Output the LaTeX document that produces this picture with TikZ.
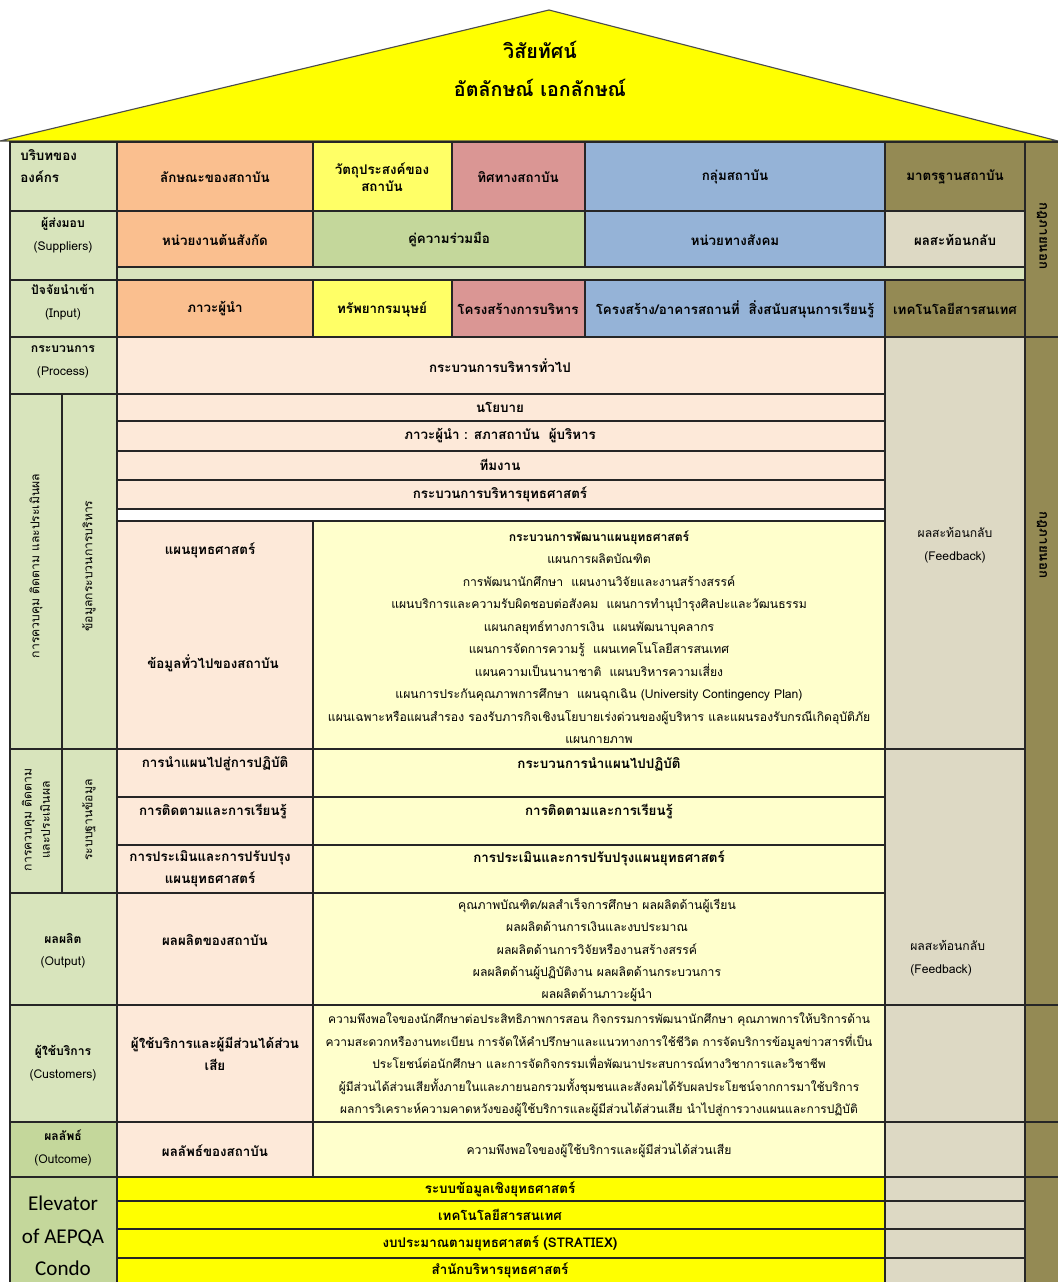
\documentclass[tikz,border=0pt]{standalone}
\usepackage{fontspec}
\setmainfont[Script=Thai]{Loma}
\newfontfamily\elevfont{Carlito}

\definecolor{roofyellow}{HTML}{FFFF00}
\definecolor{labelgreen}{HTML}{D8E4BC}
\definecolor{midgreen}{HTML}{C4D79B}
\definecolor{cellorange}{HTML}{FABF8F}
\definecolor{paleyellow}{HTML}{FFFF66}
\definecolor{cellpink}{HTML}{DA9694}
\definecolor{cellblue}{HTML}{95B3D7}
\definecolor{olive}{HTML}{948A54}
\definecolor{beige}{HTML}{DDD9C4}
\definecolor{peach}{HTML}{FDE9D9}
\definecolor{cream}{HTML}{FFFFCC}

\tikzset{
  cellbox/.style={draw=black!85, line width=0.8pt},
  hd/.style={font=\fontsize{9.5}{16}\selectfont\bfseries, align=center, inner sep=0pt},
  txt/.style={font=\fontsize{8.65}{16}\selectfont, align=center, inner sep=0pt},
  title/.style={font=\fontsize{14}{18}\selectfont\bfseries, inner sep=0pt},
}

\begin{document}
\begin{tikzpicture}[x=0.025cm, y=-0.025cm]

\useasboundingbox (0,0) rectangle (1058,1282);
\clip (0,0) rectangle (1058,1282);

% roof
\draw[fill=roofyellow, draw=black!70, line width=0.8pt] (0,141) -- (549,10) -- (1058,141) -- cycle;
\node(vision) at (540,50) [title]{วิสัยทัศน์};
\node(identity) at (540,88) [title]{อัตลักษณ์ เอกลักษณ์};

% context, suppliers, input
\draw[cellbox, fill=labelgreen] (10,142) rectangle (117,211);
\draw[cellbox, fill=labelgreen] (10,211) rectangle (117,280);
\draw[cellbox, fill=labelgreen] (10,280) rectangle (117,337);
\draw[cellbox, fill=labelgreen] (117,267) rectangle (1025,280);
\draw[cellbox, fill=olive] (1025,142) rectangle (1062,337);

\draw[cellbox, fill=cellorange] (117,142) rectangle (313,211);
\draw[cellbox, fill=paleyellow] (313,142) rectangle (452,211);
\draw[cellbox, fill=cellpink] (452,142) rectangle (585,211);
\draw[cellbox, fill=cellblue] (585,142) rectangle (885,211);
\draw[cellbox, fill=olive] (885,142) rectangle (1025,211);

\draw[cellbox, fill=cellorange] (117,211) rectangle (313,267);
\draw[cellbox, fill=midgreen] (313,211) rectangle (585,267);
\draw[cellbox, fill=cellblue] (585,211) rectangle (885,267);
\draw[cellbox, fill=beige] (885,211) rectangle (1025,267);

\draw[cellbox, fill=cellorange] (117,280) rectangle (313,337);
\draw[cellbox, fill=paleyellow] (313,280) rectangle (452,337);
\draw[cellbox, fill=cellpink] (452,280) rectangle (585,337);
\draw[cellbox, fill=cellblue] (585,280) rectangle (885,337);
\draw[cellbox, fill=olive] (885,280) rectangle (1025,337);

\node(context) at (20,166) [hd, anchor=west, align=left]{บริบทของ\\องค์กร};
\node(nature) at (215,177) [hd]{ลักษณะของสถาบัน};
\node(objective) at (382,177) [hd, font=\fontsize{9.5}{12}\selectfont\bfseries]{วัตถุประสงค์ของ\\สถาบัน};
\node(direction) at (518,177) [hd]{ทิศทางสถาบัน};
\node(group) at (735,177) [hd]{กลุ่มสถาบัน};
\node(standard) at (955,177) [hd]{มาตรฐานสถาบัน};

\node(suppliers) at (63,235) [txt]{{\bfseries ผู้ส่งมอบ}\\(Suppliers)};
\node(parent) at (215,240) [hd]{หน่วยงานต้นสังกัด};
\node(partner) at (449,240) [hd]{คู่ความร่วมมือ};
\node(society) at (735,240) [hd]{หน่วยทางสังคม};
\node(reflect) at (955,240) [hd]{ผลสะท้อนกลับ};

\node(input) at (63,302) [txt]{{\bfseries ปัจจัยนำเข้า}\\(Input)};
\node(leader) at (215,309) [hd]{ภาวะผู้นำ};
\node(human) at (382,309) [hd]{ทรัพยากรมนุษย์};
\node(structure) at (518,309) [hd]{โครงสร้างการบริหาร};
\node(building) at (735,309) [hd]{โครงสร้าง/อาคารสถานที่~ สิ่งสนับสนุนการเรียนรู้};
\node(ict) at (955,309) [hd]{เทคโนโลยีสารสนเทศ};

\node(lawtop) at (1042,236) [hd, rotate=-90]{กฎภายนอก};

% process
\draw[cellbox, fill=olive] (1025,337) rectangle (1062,1290);
\draw[cellbox] (1025,1005) -- (1062,1005);
\draw[cellbox] (1025,1122) -- (1062,1122);
\draw[cellbox] (1025,1177) -- (1062,1177);
\draw[cellbox, fill=beige] (885,337) rectangle (1025,749);
\draw[cellbox, fill=labelgreen] (10,337) rectangle (117,394);
\draw[draw=cellblue!70!blue, line width=0.8pt] (10,394) -- (117,394);
\draw[cellbox, fill=peach] (117,337) rectangle (885,394);

\draw[cellbox, fill=labelgreen] (10,394) rectangle (62,749);
\draw[cellbox, fill=labelgreen] (62,394) rectangle (117,749);
\draw[cellbox, fill=peach] (117,394) rectangle (885,421);
\draw[cellbox, fill=peach] (117,421) rectangle (885,451);
\draw[cellbox, fill=peach] (117,451) rectangle (885,480);
\draw[cellbox, fill=peach] (117,480) rectangle (885,509);
\draw[cellbox, fill=white] (117,509) rectangle (885,521);
\draw[cellbox, fill=peach] (117,521) rectangle (313,749);
\draw[cellbox, fill=cream] (313,521) rectangle (885,749);

\node(process) at (63,362) [txt]{{\bfseries กระบวนการ}\\(Process)};
\node(general) at (500,366) [hd]{กระบวนการบริหารทั่วไป};
\node(policy) at (500,407) [hd]{นโยบาย};
\node(council) at (500,436) [hd]{ภาวะผู้นำ : สภาสถาบัน~ ผู้บริหาร};
\node(team) at (500,465) [hd]{ทีมงาน};
\node(stratmgmt) at (500,494) [hd]{กระบวนการบริหารยุทธศาสตร์};
\node(stratplan) at (210,550) [hd]{แผนยุทธศาสตร์};
\node(info) at (213,663) [hd]{ข้อมูลทั่วไปของสถาบัน};
\node(plans) at (599,637) [txt]{{\bfseries กระบวนการพัฒนาแผนยุทธศาสตร์}\\
  แผนการผลิตบัณฑิต\\
  การพัฒนานักศึกษา~ แผนงานวิจัยและงานสร้างสรรค์\\
  แผนบริการและความรับผิดชอบต่อสังคม~ แผนการทำนุบำรุงศิลปะและวัฒนธรรม\\
  แผนกลยุทธ์ทางการเงิน~ แผนพัฒนาบุคลากร\\
  แผนการจัดการความรู้~ แผนเทคโนโลยีสารสนเทศ\\
  แผนความเป็นนานาชาติ~ แผนบริหารความเสี่ยง\\
  แผนการประกันคุณภาพการศึกษา~ แผนฉุกเฉิน (University Contingency Plan)\\
  แผนเฉพาะหรือแผนสำรอง รองรับภารกิจเชิงนโยบายเร่งด่วนของผู้บริหาร และแผนรองรับกรณีเกิดอุบัติภัย\\
  แผนกายภาพ};
\node(feedbacktop) at (955,545) [txt]{ผลสะท้อนกลับ\\(Feedback)};
\node(controltop) at (36,566) [txt, rotate=90]{การควบคุม ติดตาม และประเมินผล};
\node(procdata) at (89,566) [txt, rotate=90]{ข้อมูลกระบวนการบริหาร};
\node(lawmid) at (1042,545) [hd, rotate=-90]{กฎภายนอก};

% control and follow-up
\draw[cellbox, fill=labelgreen] (10,749) rectangle (62,893);
\draw[cellbox, fill=labelgreen] (62,749) rectangle (117,893);
\foreach \ya/\yb in {749/797, 797/845, 845/893}{
  \draw[cellbox, fill=peach] (117,\ya) rectangle (313,\yb);
  \draw[cellbox, fill=cream] (313,\ya) rectangle (885,\yb);
}
\draw[cellbox, fill=beige] (885,749) rectangle (1025,1005);

\node(controlbot) at (36,820) [txt, font=\fontsize{8.65}{13}\selectfont, rotate=90]{การควบคุม ติดตาม\\และประเมินผล};
\node(database) at (89,820) [txt, rotate=90]{ระบบฐานข้อมูล};
\node(deploy) at (215,764) [hd]{การนำแผนไปสู่การปฏิบัติ};
\node(deployproc) at (599,764) [hd]{กระบวนการนำแผนไปปฏิบัติ};
\node(monitor) at (213,811) [hd]{การติดตามและการเรียนรู้};
\node(monitorproc) at (599,811) [hd]{การติดตามและการเรียนรู้};
\node(evaluate) at (210,869) [hd, font=\fontsize{9.5}{15.5}\selectfont\bfseries]{การประเมินและการปรับปรุง\\แผนยุทธศาสตร์};
\node(evaluateproc) at (599,858) [hd]{การประเมินและการปรับปรุงแผนยุทธศาสตร์};

% output
\draw[cellbox, fill=labelgreen] (10,893) rectangle (117,1005);
\draw[cellbox, fill=peach] (117,893) rectangle (313,1005);
\draw[cellbox, fill=cream] (313,893) rectangle (885,1005);

\node(output) at (63,951) [txt]{{\bfseries ผลผลิต}\\(Output)};
\node(instoutput) at (215,940) [hd]{ผลผลิตของสถาบัน};
\node(outputs) at (597,950) [txt, font=\fontsize{8.65}{15.8}\selectfont]{คุณภาพบัณฑิต/ผลสำเร็จการศึกษา ผลผลิตด้านผู้เรียน\\
  ผลผลิตด้านการเงินและงบประมาณ\\
  ผลผลิตด้านการวิจัยหรืองานสร้างสรรค์\\
  ผลผลิตด้านผู้ปฏิบัติงาน ผลผลิตด้านกระบวนการ\\
  ผลผลิตด้านภาวะผู้นำ};
\node(feedbackbot) at (910,958) [txt, anchor=west, align=left]{ผลสะท้อนกลับ\\(Feedback)};

% customers
\draw[cellbox, fill=labelgreen] (10,1005) rectangle (117,1122);
\draw[cellbox, fill=peach] (117,1005) rectangle (313,1122);
\draw[cellbox, fill=cream] (313,1005) rectangle (885,1122);
\draw[cellbox, fill=beige] (885,1005) rectangle (1025,1122);

\node(customers) at (63,1063) [txt]{{\bfseries ผู้ใช้บริการ}\\(Customers)};
\node(stakeholders) at (215,1054) [hd]{ผู้ใช้บริการและผู้มีส่วนได้ส่วน\\เสีย};
\node(satisfaction) at (599,1065) [txt, font=\fontsize{8.5}{16}\selectfont]{ความพึงพอใจของนักศึกษาต่อประสิทธิภาพการสอน กิจกรรมการพัฒนานักศึกษา คุณภาพการให้บริการด้าน\\
  ความสะดวกหรืองานทะเบียน การจัดให้คำปรึกษาและแนวทางการใช้ชีวิต การจัดบริการข้อมูลข่าวสารที่เป็น\\
  ประโยชน์ต่อนักศึกษา และการจัดกิจกรรมเพื่อพัฒนาประสบการณ์ทางวิชาการและวิชาชีพ\\
  ผู้มีส่วนได้ส่วนเสียทั้งภายในและภายนอกรวมทั้งชุมชนและสังคมได้รับผลประโยชน์จากการมาใช้บริการ\\
  ผลการวิเคราะห์ความคาดหวังของผู้ใช้บริการและผู้มีส่วนได้ส่วนเสีย นำไปสู่การวางแผนและการปฏิบัติ};

% outcome
\draw[cellbox, fill=midgreen] (10,1122) rectangle (117,1177);
\draw[cellbox, fill=peach] (117,1122) rectangle (313,1177);
\draw[cellbox, fill=cream] (313,1122) rectangle (885,1177);
\draw[cellbox, fill=beige] (885,1122) rectangle (1025,1177);

\node(outcome) at (63,1148) [txt]{{\bfseries ผลลัพธ์}\\(Outcome)};
\node(instoutcome) at (215,1151) [hd]{ผลลัพธ์ของสถาบัน};
\node(satisfied) at (599,1151) [txt]{ความพึงพอใจของผู้ใช้บริการและผู้มีส่วนได้ส่วนเสีย};

% elevator
\draw[cellbox, fill=midgreen] (10,1177) rectangle (117,1290);
\foreach \ya/\yb in {1177/1201, 1201/1229, 1229/1258, 1258/1290}{
  \draw[cellbox, fill=roofyellow] (117,\ya) rectangle (885,\yb);
  \draw[cellbox, fill=beige] (885,\ya) rectangle (1025,\yb);
}

\node(elevator) at (63,1236) [align=center, inner sep=0pt, font=\elevfont\fontsize{15}{23}\selectfont]{Elevator\\of AEPQA\\Condo};
\node(stratinfo) at (500,1189) [hd]{ระบบข้อมูลเชิงยุทธศาสตร์};
\node(itsys) at (500,1215) [hd]{เทคโนโลยีสารสนเทศ};
\node(budget) at (500,1243) [hd]{งบประมาณตามยุทธศาสตร์ (STRATIEX)};
\node(office) at (500,1270) [hd]{สำนักบริหารยุทธศาสตร์};

\end{tikzpicture}
\end{document}
